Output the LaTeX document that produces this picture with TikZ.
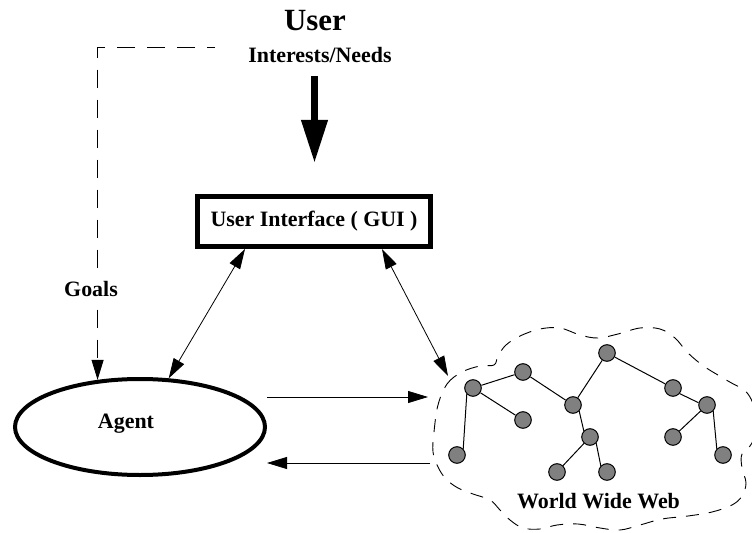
\documentclass[tikz,border=0pt]{standalone}
\usepackage{fontspec}
\setmainfont{Liberation Serif}
\usetikzlibrary{arrows.meta,shapes.geometric}
\begin{document}
\begin{tikzpicture}[x=1bp,y=-1bp,
  lbl/.style={font=\fontsize{22}{26}\selectfont\bfseries, inner sep=0pt, anchor=base},
  big/.style={font=\fontsize{31}{36}\selectfont\bfseries, inner sep=0pt, anchor=base},
  web/.style={circle, draw=black, line width=1bp, fill={rgb,255:red,128;green,128;blue,128}, minimum size=16.6bp, inner sep=0pt},
  edge/.style={line width=1bp},
  conn/.style={line width=0.8bp, {Triangle[length=20bp,width=12bp]}-{Triangle[length=20bp,width=12bp]}},
  conn1/.style={line width=0.8bp, -{Triangle[length=20bp,width=12bp]}},
  guibox/.style={draw, line width=5bp, minimum width=233bp, minimum height=50bp, inner sep=0pt, font=\fontsize{22}{26}\selectfont\bfseries},
  agentshape/.style={ellipse, draw, line width=4bp, minimum width=250bp, minimum height=96bp, inner sep=0pt},
  goalsdash/.style={line width=0.9bp, dash pattern=on 18bp off 12bp, dash phase=10bp, -{Triangle[length=20bp,width=12bp]}},
  clouddash/.style={line width=0.9bp, dash pattern=on 13bp off 10bp}
]
\useasboundingbox (0,0) rectangle (752,533);

% texts
\node[big] (user) at (315,31) {User};
\node[lbl] (needs) at (320,63) {Interests/Needs};

% thick arrow
\coordinate (nstart) at (314.5,76);
\coordinate (ntip) at (314.5,163);
\draw[line width=7bp, -{Triangle[length=43bp,width=25bp]}] (nstart) -- (ntip);

% GUI box
\node[guibox] (gui) at (314,221.5) {User Interface ( GUI )};

% Agent
\node[agentshape] (agent) at (140,427) {};
\node[lbl] (agentlabel) at (126,428) {Agent};

% goals dashed connector
\coordinate (dstart) at (215,47);
\draw[goalsdash] (dstart) -| (agent.132);
\node[lbl, fill=white, inner xsep=2bp, inner ysep=6bp] (goals) at (91,297) {Goals};

% cloud
\begin{scope}
\clip (0,0) rectangle (752,533);
\draw[clouddash] plot[smooth cycle, tension=0.6] coordinates {
 (438,405) (447,384) (462,372) (480,366) (494,365) (498,356) (506,345)
 (520,336) (540,329) (560,328) (580,335) (598,338) (618,334) (640,328)
 (660,329) (675,338) (688,353) (705,367) (728,381) (748,394) (757,420)
 (752,443) (742,454) (742,468) (746,483) (742,496) (732,505) (712,512)
 (688,516) (662,519) (640,525) (620,530) (600,528) (578,524) (557,525)
 (540,529) (523,528) (510,520) (500,510) (490,500) (473,494) (458,488)
 (446,479) (438,467) (433,452) (434,432)};
\end{scope}

% web nodes
\node[web] (n1) at (473,388) {};
\node[web] (n2) at (523,372) {};
\node[web] (n3) at (523,420) {};
\node[web] (n4) at (457,455) {};
\node[web] (n5) at (573,405) {};
\node[web] (n6) at (590,437) {};
\node[web] (n7) at (557,472) {};
\node[web] (n8) at (607,472) {};
\node[web] (n9) at (607,353) {};
\node[web] (n10) at (673,388) {};
\node[web] (n11) at (707,405) {};
\node[web] (n12) at (673,437) {};
\node[web] (n13) at (723,455) {};

\draw[edge] (n1) -- (n2);
\draw[edge] (n1) -- (n3);
\draw[edge] (n1.south west) -- (n4.north east);
\draw[edge] (n2) -- (n5);
\draw[edge] (n5) -- (n9);
\draw[edge] (n5.south east) -- (n6.north west);
\draw[edge] (n6) -- (n7);
\draw[edge] (n6.south east) -- (n8.north west);
\draw[edge] (n9) -- (n10);
\draw[edge] (n10.-40) -- (n11.165);
\draw[edge] (n11) -- (n12);
\draw[edge] (n11.south east) -- (n13.north west);

\node[lbl] (www) at (598.5,508) {World Wide Web};

% connectors
\coordinate (wwwtip) at (448,376);
\coordinate (a2w) at (428,397);
\coordinate (w2a) at (430,463);
\draw[conn] ([xshift=50bp]gui.south west) -- (agent);
\draw[conn] ([xshift=-51bp]gui.south east) -- (wwwtip);
\draw[conn1] (agent.east |- a2w) -- (a2w);
\draw[conn1] (w2a) -- (w2a -| agent.east);
\end{tikzpicture}
\end{document}
